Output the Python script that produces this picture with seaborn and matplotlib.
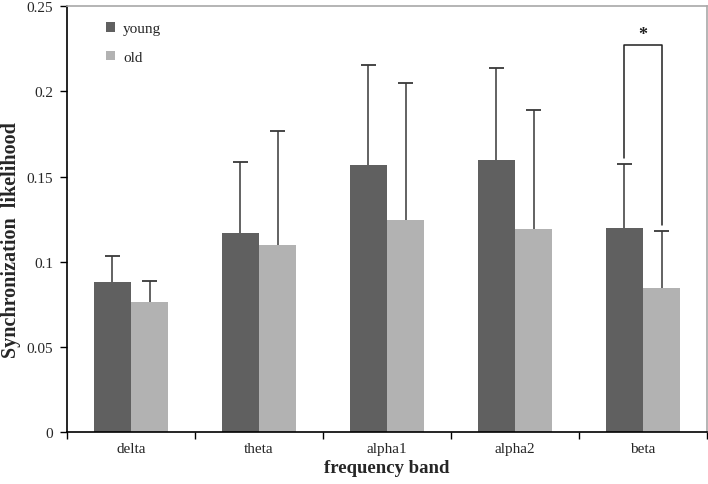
import matplotlib
matplotlib.use("Agg")
import matplotlib.pyplot as plt
import seaborn as sns
import numpy as np
import pandas as pd

bands = ["delta", "theta", "alpha1", "alpha2", "beta"]
groups = ["young", "old"]
young_mean = [0.0878, 0.1168, 0.1569, 0.1598, 0.1197]
old_mean = [0.0763, 0.1099, 0.1242, 0.1191, 0.0847]
young_sd = [0.0157, 0.0418, 0.0583, 0.0540, 0.0376]
old_sd = [0.0125, 0.0667, 0.0806, 0.0700, 0.0331]
yticks = [0, 0.05, 0.1, 0.15, 0.2, 0.25]
ytick_labels = ["0", "0.05", "0.1", "0.15", "0.2", "0.25"]
colors = {"young": "#606060", "old": "#b2b2b2"}

df = pd.DataFrame({
    "band": bands * 2,
    "group": ["young"] * 5 + ["old"] * 5,
    "value": young_mean + old_mean,
    "sd": young_sd + old_sd,
})

sns.set_style("white")
plt.rcParams["font.family"] = ["Liberation Serif", "DejaVu Serif"]

fig = plt.figure(figsize=(7.08, 4.85), dpi=100)
ax = fig.add_axes([0.0946, 0.1072, 0.904, 0.878])

sns.barplot(data=df, x="band", y="value", hue="group", order=bands,
            hue_order=groups, palette=colors, width=0.58, errorbar=None,
            saturation=1, linewidth=0, ax=ax)

# one-sided error bars from bar positions
ecol = "#383838"
cap = 0.06
centers = {}
for container, g in zip(ax.containers, groups):
    sds = young_sd if g == "young" else old_sd
    for i, (bar, sd) in enumerate(zip(container, sds)):
        xc = bar.get_x() + bar.get_width() / 2
        h = bar.get_height()
        ax.vlines(xc, h, h + sd, color=ecol, lw=1.1, zorder=3)
        ax.hlines(h + sd, xc - cap, xc + cap, color=ecol, lw=1.3, zorder=3)
        centers[(g, i)] = xc

# significance bracket for beta
yb = young_mean[4] + young_sd[4]
ob = old_mean[4] + old_sd[4]
x1 = centers[("young", 4)]
x2 = centers[("old", 4)]
ytop = 0.227
ax.plot([x1, x1, x2, x2], [yb + 0.0035, ytop, ytop, ob + 0.0035],
        color="#202020", lw=1.1, zorder=3)
ax.text((x1 + x2) / 2, ytop + 0.0015, "*", ha="center", va="bottom",
        fontsize=13, fontweight="bold", color="#202020")

ax.set_ylim(0, 0.25)
ax.set_xlim(-0.5, 4.5)
ax.set_yticks(yticks)
ax.set_yticklabels(ytick_labels, fontsize=11)
ax.tick_params(axis="y", direction="out", length=5, width=1, color="black", left=True, pad=5)
ax.tick_params(axis="x", which="major", length=0, labelsize=11, pad=7)
ax.set_xticks(np.arange(-0.5, 5, 1), minor=True)
ax.tick_params(axis="x", which="minor", direction="out", length=5, width=1, color="black", bottom=True)

for s in ["left", "bottom"]:
    ax.spines[s].set_color("black")
    ax.spines[s].set_linewidth(1.2)
for s in ["top", "right"]:
    ax.spines[s].set_color("#a8a8a8")
    ax.spines[s].set_linewidth(1.2)

ax.set_xlabel("frequency band", fontsize=13.5, fontweight="bold", labelpad=3)
ax.set_ylabel("")
fig.text(11.5 / 708, 0.505, "Synchronization  likelihood", rotation=90,
         ha="center", va="center", fontsize=14.5, fontweight="bold")

handles, labels = ax.get_legend_handles_labels()
ax.legend(handles, labels, loc="upper left", bbox_to_anchor=(0.04, 0.995),
          frameon=False, fontsize=11, handlelength=0.6, handleheight=0.6,
          handletextpad=0.5, labelspacing=1.0)

fig.savefig("out.png", dpi=100)
